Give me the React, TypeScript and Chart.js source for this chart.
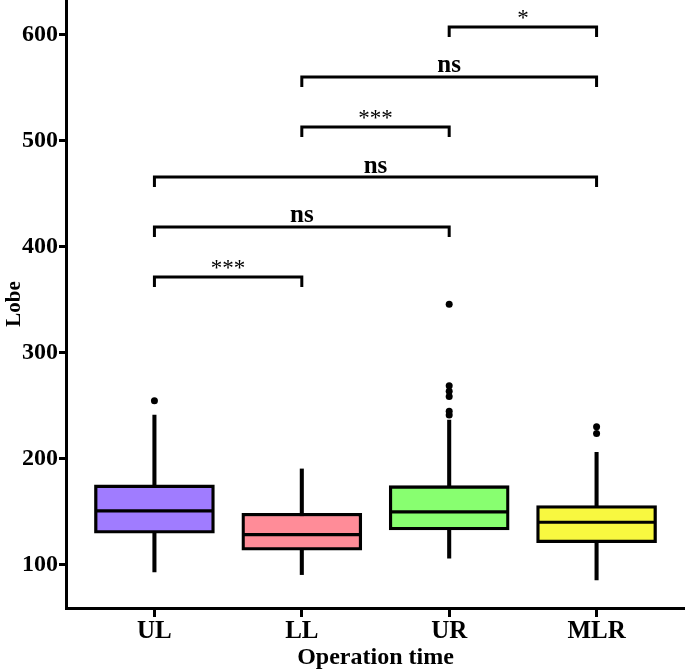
import React, { useEffect, useRef } from "react";
import { Chart, registerables } from "chart.js";

Chart.register(...registerables);

const categories = ["UL", "LL", "UR", "MLR"];
const positions = [1, 2, 3, 4];
const q1Values = [130, 114, 133, 121];
const medianValues = [151, 128.6, 150, 140.3];
const q3Values = [175.5, 148.8, 174.8, 156];
const whiskerLowValues = [93.4, 90.9, 106.3, 85.8];
const whiskerHighValues = [241.5, 190.6, 236.8, 206.3];
const outliersUL = [255];
const outliersLL: number[] = [];
const outliersUR = [346, 269, 264, 259, 245, 241.5];
const outliersMLR = [230.5, 224];
const boxColors = ["#A07CFF", "#FF8C98", "#88FF70", "#F8F840"];
const yTickValues = [100, 200, 300, 400, 500, 600];

const bracketFrom = [1, 1, 1, 2, 2, 3];
const bracketTo = [2, 3, 4, 3, 4, 4];
const bracketLevel = [371.7, 418.9, 466, 513.2, 560.4, 607.5];
const bracketLabels = ["***", "ns", "ns", "***", "ns", "*"];
const bracketDrop = 9.4;

const SERIF = '"Liberation Serif", "Times New Roman", serif';

const bracketTextPlugin = {
  id: "bracketText",
  afterDatasetsDraw(chart: any) {
    const { ctx, scales } = chart;
    const xs = scales.x;
    const ys = scales.y;
    ctx.save();
    ctx.fillStyle = "#000";
    ctx.textAlign = "center";
    ctx.textBaseline = "alphabetic";
    for (let i = 0; i < bracketLabels.length; i++) {
      const label = bracketLabels[i];
      const px = (xs.getPixelForValue(bracketFrom[i]) + xs.getPixelForValue(bracketTo[i])) / 2;
      const py = ys.getPixelForValue(bracketLevel[i]);
      const isNs = label === "ns";
      ctx.font = isNs ? `bold 25px ${SERIF}` : `23px ${SERIF}`;
      ctx.fillText(label, px, py - (isNs ? 4.5 : 2));
    }
    ctx.restore();
  },
};

export default function App() {
  const canvasRef = useRef<HTMLCanvasElement | null>(null);

  useEffect(() => {
    if (!canvasRef.current) return;

    const outlierPoints: { x: number; y: number }[] = [];
    [outliersUL, outliersLL, outliersUR, outliersMLR].forEach((arr, i) => {
      arr.forEach((v) => outlierPoints.push({ x: positions[i], y: v }));
    });

    const bracketDatasets = bracketLabels.map((_, i) => ({
      type: "line" as const,
      data: [
        { x: bracketFrom[i], y: bracketLevel[i] - bracketDrop },
        { x: bracketFrom[i], y: bracketLevel[i] },
        { x: bracketTo[i], y: bracketLevel[i] },
        { x: bracketTo[i], y: bracketLevel[i] - bracketDrop },
      ],
      borderColor: "#000",
      borderWidth: 3,
      pointRadius: 0,
      tension: 0,
      fill: false,
      borderJoinStyle: "miter" as const,
      borderCapStyle: "butt" as const,
      order: 0,
    }));

    const chart = new Chart(canvasRef.current, {
      type: "bar",
      data: {
        datasets: [
          ...bracketDatasets,
          {
            type: "scatter",
            data: outlierPoints,
            pointRadius: 3.5,
            pointBackgroundColor: "#000",
            pointBorderWidth: 0,
            order: 1,
          } as any,
          {
            type: "scatter",
            data: positions.map((p, i) => ({ x: p, y: medianValues[i] })),
            pointStyle: "line",
            pointRadius: 59,
            pointBorderColor: "#000",
            borderColor: "#000",
            pointBorderWidth: 3.2,
            order: 2,
          } as any,
          {
            type: "bar",
            data: positions.map((p, i) => ({ x: p, y: [q1Values[i], q3Values[i]] })),
            backgroundColor: boxColors,
            borderColor: "#000",
            borderWidth: 3.3,
            borderSkipped: false,
            barThickness: 120,
            grouped: false,
            order: 3,
          } as any,
          {
            type: "bar",
            data: positions.map((p, i) => ({ x: p, y: [whiskerLowValues[i], whiskerHighValues[i]] })),
            backgroundColor: "#000",
            borderWidth: 0,
            barThickness: 3.4,
            grouped: false,
            order: 4,
          } as any,
        ],
      },
      options: {
        animation: false,
        responsive: false,
        devicePixelRatio: 1,
        layout: { padding: 0, autoPadding: false },
        plugins: {
          legend: { display: false },
          tooltip: { enabled: false },
        },
        scales: {
          x: {
            type: "linear",
            offset: false,
            min: 0.4,
            max: 4.6,
            afterBuildTicks: (scale: any) => {
              scale.ticks = positions.map((v) => ({ value: v }));
            },
            afterFit: (scale: any) => {
              scale.height = 63;
              scale.paddingLeft = 0;
              scale.paddingRight = 0;
            },
            ticks: {
              callback: (v: any) => categories[Number(v) - 1] ?? "",
              color: "#000",
              font: { family: SERIF, size: 25, weight: "bold" },
              padding: 0,
              maxRotation: 0,
              autoSkip: false,
            },
            grid: {
              display: true,
              offset: false,
              drawOnChartArea: false,
              drawTicks: true,
              tickLength: 9,
              tickWidth: 3,
              tickColor: "#000",
            },
            border: { display: true, color: "#000", width: 3 },
            title: {
              display: true,
              text: "Operation time",
              color: "#000",
              font: { family: SERIF, size: 24, weight: "bold" },
              padding: { top: 0, bottom: -1 },
            },
          },
          y: {
            type: "linear",
            offset: false,
            min: 59.4,
            max: 633,
            afterBuildTicks: (scale: any) => {
              scale.ticks = yTickValues.map((v) => ({ value: v }));
            },
            afterFit: (scale: any) => {
              scale.width = 66;
              scale.paddingTop = 0;
              scale.paddingBottom = 0;
            },
            ticks: {
              color: "#000",
              font: { family: SERIF, size: 24, weight: "bold" },
              padding: 1,
            },
            grid: {
              display: true,
              drawOnChartArea: false,
              drawTicks: true,
              tickLength: 7,
              tickWidth: 3,
              tickColor: "#000",
            },
            border: { display: true, color: "#000", width: 3 },
            title: {
              display: true,
              text: "Lobe",
              color: "#000",
              font: { family: SERIF, size: 21, weight: "bold" },
              padding: { top: 2, bottom: 0 },
            },
          },
        },
      },
      plugins: [bracketTextPlugin],
    } as any);

    return () => chart.destroy();
  }, []);

  return (
    <div style={{ position: "absolute", left: 0, top: 0, width: 685, height: 671, background: "#fff" }}>
      <canvas ref={canvasRef} width={685} height={671} style={{ width: 685, height: 671 }} />
    </div>
  );
}
